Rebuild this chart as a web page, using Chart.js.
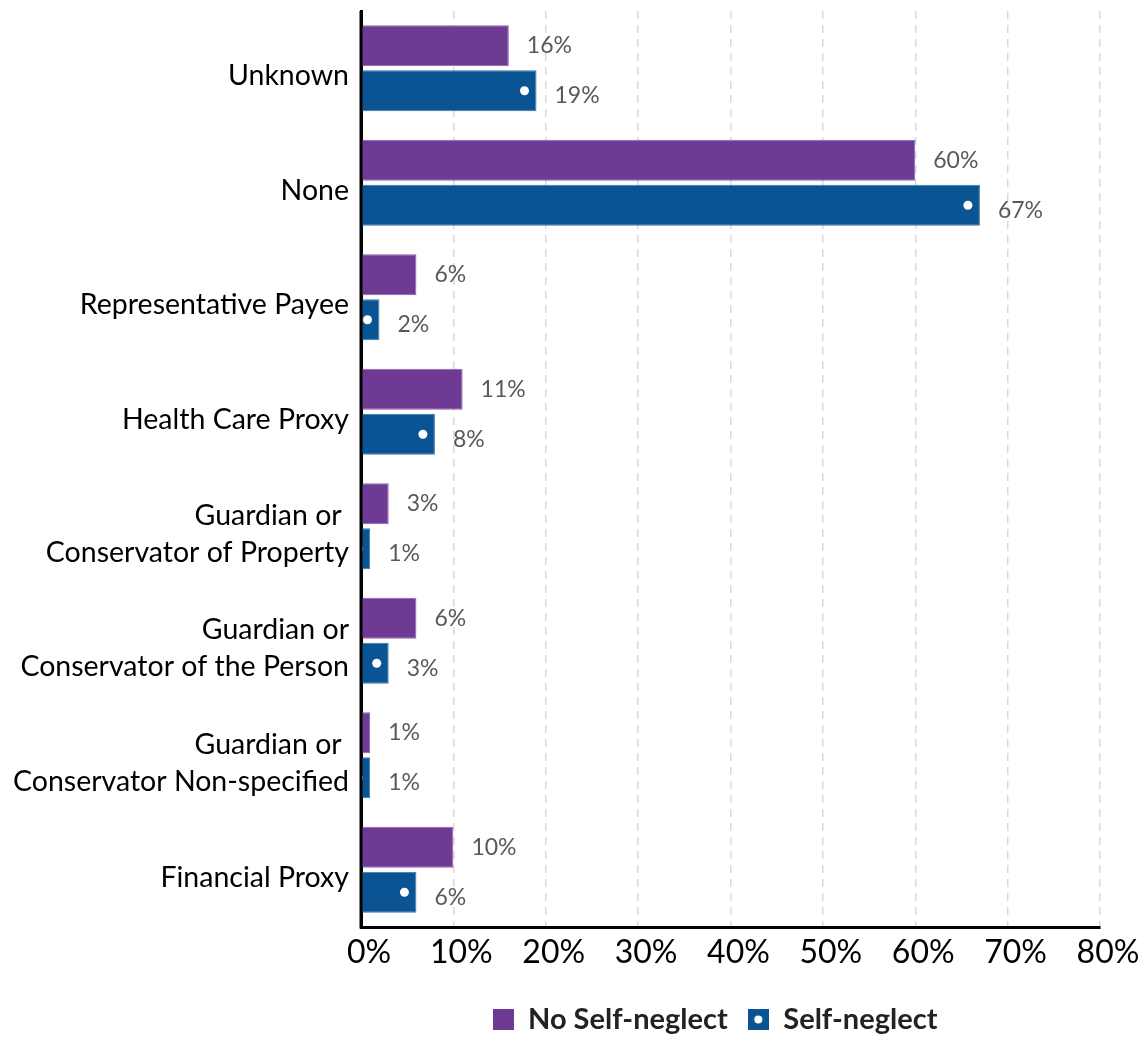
<!DOCTYPE html>
<html>
<head>
<meta charset="utf-8">
<script src="https://cdn.jsdelivr.net/npm/chart.js@4.4.1/dist/chart.umd.min.js"></script>
<style>
  html, body { margin: 0; padding: 0; background: #fff; }
  #wrap { width: 1143px; height: 1038px; position: relative; }
</style>
</head>
<body>
<div id="wrap"><canvas id="c"></canvas></div>
<script>
const categories = [
  'Unknown',
  'None',
  'Representative Payee',
  'Health Care Proxy',
  ['Guardian or ', 'Conservator of Property'],
  ['Guardian or', 'Conservator of the Person'],
  ['Guardian or ', 'Conservator Non-specified'],
  'Financial Proxy'
];
const noSelfNeglect = [16, 60, 6, 11, 3, 6, 1, 10];
const selfNeglect = [19, 67, 2, 8, 1, 3, 1, 6];
const xTicks = [0, 10, 20, 30, 40, 50, 60, 70, 80];
const seriesNames = ['No Self-neglect', 'Self-neglect'];

const PURPLE = '#6f3a93';
const BLUE = '#0a5493';
const FONT = 'Lato, "Open Sans", sans-serif';

function makeBox(color, dot) {
  const c = document.createElement('canvas');
  c.width = 21; c.height = 21;
  const g = c.getContext('2d');
  g.fillStyle = color;
  g.fillRect(0, 0, 21, 21);
  if (dot) {
    g.fillStyle = '#fff';
    g.beginPath(); g.arc(10.5, 10.5, 4, 0, Math.PI * 2); g.fill();
  }
  return c;
}
const boxes = [makeBox(PURPLE, false), makeBox(BLUE, true)];

const overlay = {
  id: 'overlay',
  afterLayout(chart) {
    const lg = chart.legend;
    if (!lg) return;
    const h = lg.bottom - lg.top;
    lg.left = 302;
    lg.right = 1128;
    lg.top = 985;
    lg.bottom = lg.top + h;
  },
  afterDatasetsDraw(chart) {
    const ctx = chart.ctx;
    const area = chart.chartArea;
    const meta1 = chart.getDatasetMeta(1);
    ctx.save();
    ctx.beginPath();
    ctx.rect(area.left + 1, area.top, area.right - area.left, area.bottom - area.top);
    ctx.clip();
    ctx.fillStyle = '#fff';
    meta1.data.forEach(el => {
      ctx.beginPath();
      ctx.arc(el.x - 12, el.y, 4.5, 0, Math.PI * 2);
      ctx.fill();
    });
    ctx.restore();
    ctx.save();
    ctx.strokeStyle = '#000';
    ctx.lineWidth = 3;
    ctx.beginPath();
    ctx.moveTo(area.left, area.top);
    ctx.lineTo(area.left, area.bottom + 1.5);
    ctx.stroke();
    ctx.restore();
    ctx.save();
    ctx.fillStyle = '#595959';
    ctx.font = '23px ' + FONT;
    ctx.textBaseline = 'middle';
    ctx.textAlign = 'left';
    const dy = [0, 5];
    chart.data.datasets.forEach((ds, i) => {
      const meta = chart.getDatasetMeta(i);
      meta.data.forEach((el, j) => {
        ctx.fillText(ds.data[j] + '%', el.x + 18, el.y + dy[i]);
      });
    });
    ctx.restore();
  }
};

new Chart(document.getElementById('c'), {
  type: 'bar',
  data: {
    labels: categories,
    datasets: [
      { label: seriesNames[0], data: noSelfNeglect, backgroundColor: PURPLE, borderColor: '#8b63a8', borderWidth: 1, borderSkipped: 'left' },
      { label: seriesNames[1], data: selfNeglect, backgroundColor: BLUE, borderColor: '#3a76a8', borderWidth: 1, borderSkipped: 'left' }
    ]
  },
  options: {
    indexAxis: 'y',
    responsive: true,
    maintainAspectRatio: false,
    animation: false,
    layout: { padding: { left: 0, right: 43, top: 11, bottom: 0 } },
    datasets: { bar: { categoryPercentage: 0.786, barPercentage: 0.91 } },
    scales: {
      x: {
        min: 0, max: 80,
        afterBuildTicks(scale) { scale.ticks = xTicks.map(v => ({ value: v })); },
        afterFit(scale) { scale.height = 52; },
        ticks: {
          callback: v => v + '%',
          color: '#000',
          font: { family: FONT, size: 32 },
          padding: 6,
          labelOffset: 8,
          maxRotation: 0
        },
        grid: {
          color: ctx => ctx.tick && ctx.tick.value === 0 ? 'rgba(0,0,0,0)' : '#d9d9d9',
          lineWidth: 1.5,
          drawTicks: false
        },
        border: { display: true, color: '#000', width: 3, dash: [8, 6] }
      },
      y: {
        ticks: {
          color: '#000',
          font: { family: FONT, size: 28.5, lineHeight: 1.3 },
          padding: 12,
          labelOffset: 8,
          autoSkip: false
        },
        grid: { display: false, drawTicks: false },
        border: { display: true, color: '#000', width: 3 },
        afterFit(scale) { scale.width = 361; scale.paddingTop = 0; scale.paddingBottom = 0; }
      }
    },
    plugins: {
      legend: {
        position: 'bottom',
        labels: {
          usePointStyle: true,
          pointStyleWidth: 21,
          boxHeight: 21,
          color: '#222',
          font: { family: FONT, size: 29, weight: 'bold' },
          padding: 20,
          generateLabels(chart) {
            return chart.data.datasets.map((ds, i) => ({
              text: ds.label,
              pointStyle: boxes[i],
              fillStyle: ds.backgroundColor,
              strokeStyle: ds.backgroundColor,
              lineWidth: 0,
              hidden: false,
              datasetIndex: i,
              fontColor: '#222'
            }));
          }
        }
      },
      tooltip: { enabled: false }
    }
  },
  plugins: [overlay]
});
</script>
</body>
</html>
